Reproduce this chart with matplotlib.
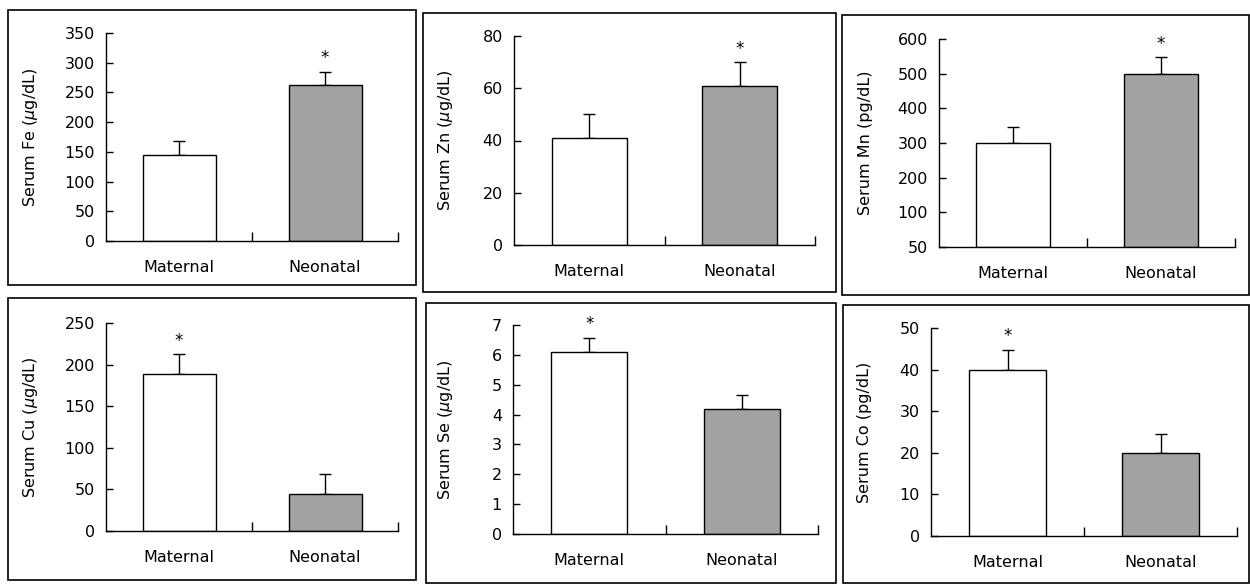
import numpy as np
import matplotlib
matplotlib.use("Agg")
import matplotlib.pyplot as plt
from matplotlib.patches import Rectangle

# 데이터
categories = ["Maternal", "Neonatal"]

fe_mean = [145, 263]
fe_err = [24, 22]
zn_mean = [41, 61]
zn_err = [9, 9]
mn_mean = [300, 500]
mn_err = [47, 47]
cu_mean = [189, 45]
cu_err = [24, 23]
se_mean = [6.1, 4.18]
se_err = [0.48, 0.48]
co_mean = [40, 20]
co_err = [4.8, 4.6]

fe_sig = [False, True]
zn_sig = [False, True]
mn_sig = [False, True]
cu_sig = [True, False]
se_sig = [True, False]
co_sig = [True, False]

fe_ticks = [0, 50, 100, 150, 200, 250, 300, 350]
zn_ticks = [0, 20, 40, 60, 80]
mn_ticks = [0, 100, 200, 300, 400, 500, 600]
mn_ticklabels = ["50", "100", "200", "300", "400", "500", "600"]
cu_ticks = [0, 50, 100, 150, 200, 250]
se_ticks = [0, 1, 2, 3, 4, 5, 6, 7]
co_ticks = [0, 10, 20, 30, 40, 50]

W, H = 1250, 584
plt.rcParams["font.family"] = "DejaVu Sans"
fig = plt.figure(figsize=(W / 100, H / 100), dpi=100)


def px_box(left, top, right, bottom):
    return [left / W, 1 - bottom / H, (right - left) / W, (bottom - top) / H]


# 패널 테두리 (픽셀)
frames = [
    (8, 10, 416, 285), (423, 13, 836, 292), (842, 15, 1249, 295),
    (8, 298, 416, 580), (426, 303, 836, 583), (843, 305, 1249, 583),
]
for l, t, r, b in frames:
    x0, y0, w, h = px_box(l, t, r, b)
    fig.patches.append(Rectangle((x0, y0), w, h, transform=fig.transFigure,
                                 fill=False, edgecolor="black", linewidth=1.2))

panels = [
    # (축 박스, ylabel 오른쪽 x 픽셀, 평균, 오차, 유의, y눈금, 눈금라벨, ylabel)
    ((106, 33, 398, 241), 40, fe_mean, fe_err, fe_sig, fe_ticks, None,
     r"Serum Fe ($\mu$g/dL)"),
    ((514, 36, 815, 245), 455, zn_mean, zn_err, zn_sig, zn_ticks, None,
     r"Serum Zn ($\mu$g/dL)"),
    ((939, 39, 1235, 247), 873, mn_mean, mn_err, mn_sig, mn_ticks, mn_ticklabels,
     "Serum Mn (pg/dL)"),
    ((106, 323, 398, 531), 40, cu_mean, cu_err, cu_sig, cu_ticks, None,
     r"Serum Cu ($\mu$g/dL)"),
    ((513, 325, 818, 534), 455, se_mean, se_err, se_sig, se_ticks, None,
     r"Serum Se ($\mu$g/dL)"),
    ((931, 328, 1237, 536), 872, co_mean, co_err, co_sig, co_ticks, None,
     "Serum Co (pg/dL)"),
]

colors = ["white", "#a2a2a2"]
x = np.array([0.5, 1.5])

for box, lab_x, mean, err, sig, ticks, ticklabels, ylabel in panels:
    l, t, r, b = box
    ax = fig.add_axes(px_box(l, t, r, b))
    ax.bar(x, mean, width=0.5, color=colors, edgecolor="black", linewidth=1.0,
           zorder=2)
    ax.errorbar(x, mean, yerr=[[0, 0], err], fmt="none", ecolor="black",
                elinewidth=1.0, capsize=4, capthick=1.0, zorder=1)
    for xi, m, e, s in zip(x, mean, err, sig):
        if s:
            ax.annotate("*", (xi, m + e), xytext=(0, 3), textcoords="offset points",
                        ha="center", va="bottom", fontsize=12)

    ax.set_xlim(0, 2)
    ax.set_ylim(ticks[0], ticks[-1])
    ax.set_yticks(ticks)
    if ticklabels is not None:
        ax.set_yticklabels(ticklabels)
    ax.set_xticks(x)
    ax.set_xticklabels(categories)
    ax.set_xticks([1, 2], minor=True)
    ax.tick_params(axis="x", which="major", length=0, pad=14, labelsize=11.5)
    ax.tick_params(axis="x", which="minor", direction="in", length=6.5, width=1)
    ax.tick_params(axis="y", direction="in", length=5, width=1, pad=8,
                   labelsize=11.5)

    ax.spines["top"].set_visible(False)
    ax.spines["right"].set_visible(False)
    for sp in ("left", "bottom"):
        ax.spines[sp].set_linewidth(1.0)

    ax.set_ylabel(ylabel, fontsize=11.5)
    ax.yaxis.set_label_coords((lab_x - l) / (r - l), 0.5)

plt.savefig("out.png", dpi=100)
plt.close()
